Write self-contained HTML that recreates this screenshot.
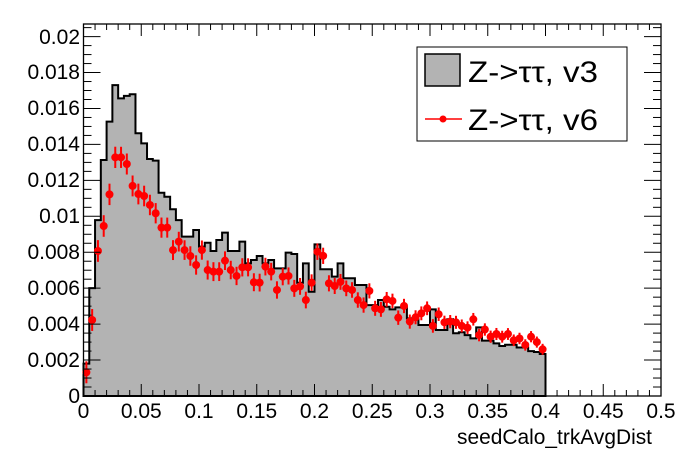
<!DOCTYPE html>
<html><head><meta charset="utf-8"><style>
html,body{margin:0;padding:0;background:#fff;}
svg{display:block;font-family:"Liberation Sans",Arial,sans-serif;}
</style></head><body>
<svg id="s" width="696" height="472" viewBox="0 0 696 472" xmlns="http://www.w3.org/2000/svg">
<g id="hist"></g>
<g id="pts"></g>
<g id="ticks" stroke="#000" stroke-width="1"></g>
<rect x="83.5" y="24" width="577.5" height="372" fill="none" stroke="#000" stroke-width="1.3"/>
<g font-size="21" fill="#000" text-anchor="end">
<text x="80" y="403">0</text>
<text x="80" y="367">0.002</text>
<text x="80" y="331">0.004</text>
<text x="80" y="295">0.006</text>
<text x="80" y="259">0.008</text>
<text x="80" y="223">0.01</text>
<text x="80" y="187">0.012</text>
<text x="80" y="151">0.014</text>
<text x="80" y="115">0.016</text>
<text x="80" y="79">0.018</text>
<text x="80" y="44">0.02</text>
</g>
<g font-size="21" fill="#000" text-anchor="middle">
<text x="83.5" y="418">0</text>
<text x="141.3" y="418">0.05</text>
<text x="199" y="418">0.1</text>
<text x="256.8" y="418">0.15</text>
<text x="314.5" y="418">0.2</text>
<text x="372.3" y="418">0.25</text>
<text x="430" y="418">0.3</text>
<text x="487.8" y="418">0.35</text>
<text x="545.5" y="418">0.4</text>
<text x="603.3" y="418">0.45</text>
<text x="661" y="418">0.5</text>
</g>
<text x="652" y="444" font-size="21" text-anchor="end" textLength="195" lengthAdjust="spacingAndGlyphs">seedCalo_trkAvgDist</text>
<rect x="417" y="47" width="210" height="94" fill="#fff" stroke="#000" stroke-width="1"/>
<rect x="425" y="54" width="35" height="32" fill="#b3b3b3" stroke="#000" stroke-width="1.5"/>
<text x="468" y="82" font-size="30" textLength="130" lengthAdjust="spacingAndGlyphs">Z-&gt;ττ, v3</text>
<line x1="425" y1="119" x2="462" y2="119" stroke="#f00" stroke-width="1.5"/>
<circle cx="443" cy="119" r="3.5" fill="#f00"/>
<text x="468" y="130" font-size="30" textLength="130" lengthAdjust="spacingAndGlyphs">Z-&gt;ττ, v6</text>
</svg>
<script>
var X0=83.5,XS=1155,Y0=396,YS=17.97;
function px(v){return X0+v*XS;} function py(v){return Y0-v*YS;}
var h=[1.8,6.0,9.79,13.13,15.27,17.3,16.56,16.7,16.79,14.62,14.06,13.19,13.1,11.31,11.09,10.39,9.79,8.87,8.87,9.24,8.31,8.53,8.07,8.68,9.09,8.07,8.07,8.59,7.38,7.57,7.79,7.38,7.57,7.1,7.1,7.98,7.9,6.3,7.38,5.8,8.44,7.05,7.05,6.64,7.38,6.55,6.55,6.18,6.18,5.06,5.06,5.34,4.97,4.82,4.93,4.93,4.32,4.27,3.95,3.95,4.82,3.67,3.67,4.27,3.49,3.55,3.39,3.21,3.82,3.08,3.08,2.93,2.78,2.85,2.85,2.7,2.7,2.5,2.45,2.34];
var p=[1.32,4.23,8.07,9.46,11.22,13.28,13.28,12.91,11.69,11.24,11.13,10.63,10.17,9.37,9.37,8.12,8.59,8.12,7.79,7.29,8.12,7.01,6.92,6.92,7.53,7.01,6.68,7.16,7.16,6.33,6.31,7.2,6.92,5.9,6.64,6.68,5.99,6.1,5.34,6.31,8.03,7.8,6.27,6.12,6.35,5.99,5.9,5.34,5.06,5.85,4.88,4.82,5.38,5.29,4.36,5.01,4.14,4.38,4.6,4.88,3.9,4.55,4.1,4.14,4.1,3.9,3.8,4.27,3.39,3.7,3.3,3.45,3.3,3.45,3.1,3.2,2.84,3.3,3.0,2.6];
var w=0.005,d="M"+px(0)+" "+Y0;
for(var i=0;i<80;i++){d+=" L"+px(i*w)+" "+py(h[i])+" L"+px((i+1)*w)+" "+py(h[i]);}
d+=" L"+px(0.4)+" "+Y0+" Z";
var ns="http://www.w3.org/2000/svg";
function el(t,a,g){var e=document.createElementNS(ns,t);for(var k in a)e.setAttribute(k,a[k]);document.getElementById(g).appendChild(e);}
el("path",{d:d,fill:"#b3b3b3",stroke:"#000","stroke-width":"2"},"hist");
for(var i=0;i<80;i++){var x=px((i+0.5)*w),y=py(p[i]),e=Math.max(5,11-i*0.07);
el("line",{x1:x,y1:y-e,x2:x,y2:y+e,stroke:"#f00","stroke-width":"2"},"pts");
el("circle",{cx:x,cy:y,r:4,fill:"#f00"},"pts");}
for(var j=0;j<=50;j++){var x=px(j*0.01),L=(j%5==0)?12:6;
el("line",{x1:x,y1:Y0,x2:x,y2:Y0-L},"ticks");el("line",{x1:x,y1:24,x2:x,y2:24+L},"ticks");}
for(var j=0;j<=41;j++){var y=py(j*0.5),L=(j%4==0)?17:8;if(y<24)continue;
el("line",{x1:X0,y1:y,x2:X0+L,y2:y},"ticks");el("line",{x1:661,y1:y,x2:661-L,y2:y},"ticks");}
</script>
</body></html>
